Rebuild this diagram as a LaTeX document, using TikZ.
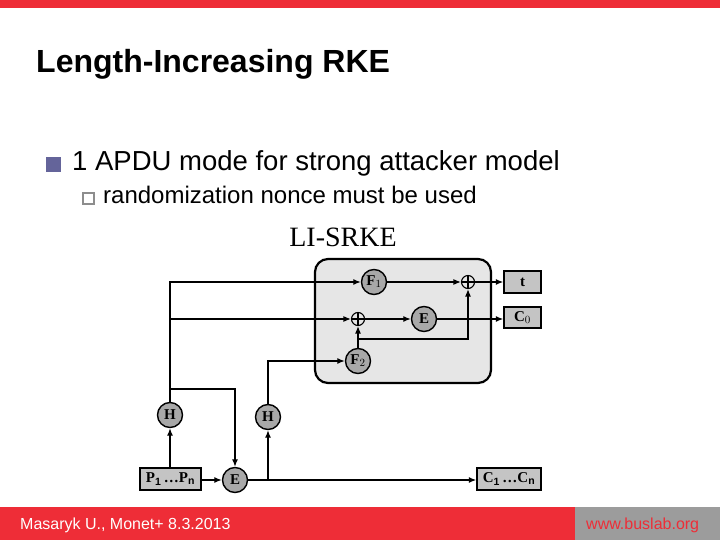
\documentclass[tikz,border=0pt]{standalone}
\usepackage{fontspec}
\setmainfont{Liberation Sans}
\newfontfamily\tnr{Liberation Serif}
\usetikzlibrary{arrows.meta}
\definecolor{slidered}{HTML}{EE2D37}
\definecolor{footgrey}{HTML}{9C9C9C}
\definecolor{bulletblue}{HTML}{64649A}
\definecolor{circgrey}{HTML}{A8A8A8}
\definecolor{boxgrey}{HTML}{C4C4C4}
\definecolor{panelgrey}{HTML}{E6E6E6}
\tikzset{
  txt/.style={inner sep=0pt, anchor=base west},
  fn/.style={circle, draw, line width=1.4pt, fill=circgrey, minimum size=25pt, inner sep=0pt, font=\tnr\bfseries\fontsize{15}{15}\selectfont},
  blk/.style={rectangle, draw, line width=1.4pt, fill=boxgrey, inner sep=0pt, font=\tnr\bfseries\fontsize{15}{15}\selectfont},
  xor/.style={circle, draw, line width=1.1pt, minimum size=13pt, inner sep=0pt,
    path picture={\draw[line width=1.1pt] (path picture bounding box.north) -- (path picture bounding box.south)
      (path picture bounding box.west) -- (path picture bounding box.east);}},
  wire/.style={line width=1.3pt},
  arr/.style={wire, -{Latex[length=7.5pt,width=6pt]}},
}
\begin{document}
\begin{tikzpicture}[x=1pt,y=-1pt]
\useasboundingbox (0,0) rectangle (720,540);
% slide frame
\fill[slidered] (0,0) rectangle (720,8);
\fill[slidered] (0,507) rectangle (575,540);
\fill[footgrey] (575,507) rectangle (720,540);
\node[txt, font=\bfseries\fontsize{32}{36}\selectfont] (title) at (36,73) {Length-Increasing RKE};
\fill[bulletblue] (46,157) rectangle (61,172);
\node[txt, font=\fontsize{27.5}{32}\selectfont] (b1) at (72,171) {1 APDU mode for strong attacker model};
\draw[line width=2.2pt, footgrey!90!black] (83,193) rectangle (94,204);
\node[txt, font=\fontsize{24}{28}\selectfont] (b2) at (103,204) {randomization nonce must be used};
\node[txt, text=white, font=\fontsize{16}{18}\selectfont] (foot) at (20,529) {Masaryk U., Monet+ 8.3.2013};
\node[txt, text=slidered, font=\fontsize{16}{18}\selectfont] (web) at (586,529) {www.buslab.org};
% diagram
\node[inner sep=0pt, anchor=base, font=\tnr\fontsize{28}{30}\selectfont] (lbl) at (343,247) {LI-SRKE};
\draw[line width=2.2pt, fill=panelgrey, rounded corners=13pt] (315,259) rectangle (491,383);
\node[blk, minimum width=61pt, minimum height=22pt] (P) at (170.5,479) {P$_\mathbf{1}$\,\dots P$_\mathbf{n}$};
\node[fn] (Eb) at (235,480) {E};
\node[blk, minimum width=64pt, minimum height=22pt] (C) at (509,479) {C$_\mathbf{1}$\,\dots C$_\mathbf{n}$};
\node[fn] (Hl) at (170,415) {H};
\node[fn] (Hr) at (268,417) {H};
\node[fn] (F1) at (374,282) {F$_1$};
\node[xor] (x1) at (468,282) {};
\node[blk, minimum width=37pt, minimum height=22pt] (t) at (522.5,282) {t};
\node[xor] (x2) at (358,319) {};
\node[fn] (Em) at (424,319) {E};
\node[blk, minimum width=37pt, minimum height=21pt] (C0) at (522.5,317.5) {C$_0$};
\node[fn] (F2) at (358,361) {F$_2$};
\coordinate (j2) at (170,389);
\coordinate (j3) at (358,339);
% connectors
\draw[arr] (Hl.south |- P.north) -- (Hl.south);
\draw[arr] (Hl.north) |- (F1.west);
\draw[arr] (Hl.north |- x2) -- (x2.west);
\draw[arr] (j2) -| (Eb.north);
\draw[arr] (P.east |- Eb) -- (Eb.west);
\draw[arr] (Eb.east) -- (C.west |- Eb);
\draw[arr] (Hr |- Eb) -- (Hr.south);
\draw[arr] (Hr.north) |- (F2.west);
\draw[arr] (F1.east) -- (x1.west);
\draw[arr] (x1.east) -- (t.west);
\draw[arr] (x2.east) -- (Em.west);
\draw[arr] (Em.east) -- (C0.west |- Em);
\draw[arr] (F2.north) -- (x2.south);
\draw[arr] (j3) -| (x1.south);
\end{tikzpicture}
\end{document}
